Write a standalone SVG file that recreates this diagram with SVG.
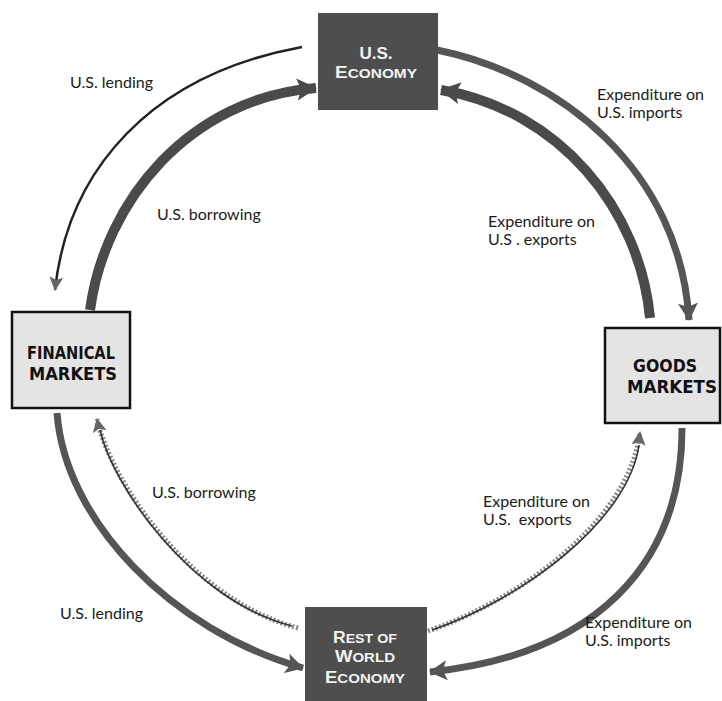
<svg xmlns="http://www.w3.org/2000/svg" width="722" height="701" viewBox="0 0 722 701">
  <style>
    .lbl { font-family: Lato, "Open Sans", "Liberation Sans", sans-serif; font-size: 16px; fill: #1a1a1a; }
    .dark { fill: #4e4e4e; }
    .light { fill: #e4e4e4; stroke: #111; stroke-width: 2.5; }
    .wt { font-family: "Liberation Sans", "DejaVu Sans", sans-serif; font-weight: bold; fill: #f4f4f4; text-anchor: middle; }
    .bt { font-family: "DejaVu Sans", "Liberation Sans", sans-serif; font-weight: bold; fill: #111; text-anchor: middle; }
    .thick { fill: none; stroke: #4a4a4a; stroke-width: 10; }
    .med { fill: none; stroke: #555; stroke-width: 7; }
    .thin { fill: none; stroke: #222; stroke-width: 2.5; }
    .speck { fill: none; stroke: #888; stroke-width: 5; stroke-dasharray: 2 2; }
    .core { fill: none; stroke: #333; stroke-width: 1.6; }
  </style>
  <defs>
    <marker id="ahBig" markerUnits="userSpaceOnUse" markerWidth="22" markerHeight="24" refX="19" refY="12" orient="auto">
      <polygon points="0,1 20,12 0,23 4,12" fill="#4a4a4a"/>
    </marker>
    <marker id="ahMed" markerUnits="userSpaceOnUse" markerWidth="20" markerHeight="22" refX="17" refY="11" orient="auto">
      <polygon points="0,1 18,11 0,21 4,11" fill="#555"/>
    </marker>
    <marker id="ahSmall" markerUnits="userSpaceOnUse" markerWidth="16" markerHeight="16" refX="13" refY="8" orient="auto">
      <polygon points="0,1 14,8 0,15 3,8" fill="#666"/>
    </marker>
  </defs>

  <g id="connectors">
    <!-- top-left: U.S. lending (thin) -->
    <path class="thin" d="M 302 47 C 150 75, 68 170, 55 290" marker-end="url(#ahSmall)"/>
    <!-- top-left: U.S. borrowing (thick) -->
    <path class="thick" d="M 90 310 C 105 200, 190 98, 316 88" marker-end="url(#ahBig)"/>
    <!-- top-right: imports (outer) -->
    <path class="med" d="M 437 50 C 560 75, 680 170, 689 320" marker-end="url(#ahMed)"/>
    <!-- top-right: exports (inner) -->
    <path class="thick" d="M 650 318 C 640 210, 560 110, 441 90" marker-end="url(#ahBig)"/>
    <!-- bottom-left: U.S. lending (outer thick) -->
    <path class="med" d="M 57 413 C 65 520, 170 630, 303 668" marker-end="url(#ahMed)"/>
    <!-- bottom-left: U.S. borrowing (thin speckled) -->
    <path class="speck" d="M 298 628 C 190 600, 110 480, 97 419" marker-end="url(#ahSmall)"/>
    <path class="core" d="M 292 626 C 190 600, 112 484, 100 430"/>
    <!-- bottom-right: exports (thin speckled) -->
    <path class="speck" d="M 428 631 C 520 600, 630 520, 640 432" marker-end="url(#ahSmall)"/>
    <path class="core" d="M 432 630 C 520 600, 628 522, 639 445"/>
    <!-- bottom-right: imports (thick) -->
    <path class="med" d="M 682 428 C 682 565, 595 655, 430 672" marker-end="url(#ahMed)"/>
  </g>

  <g id="us-economy">
    <rect class="dark" x="318" y="13" width="120" height="97"/>
    <text class="wt" x="376" y="59" font-size="17">U.S.</text>
    <text class="wt" x="376" y="78" font-size="13" textLength="82" lengthAdjust="spacingAndGlyphs"><tspan font-size="16">E</tspan>CONOMY</text>
  </g>

  <g id="financial-markets">
    <rect class="light" x="12" y="312" width="118" height="96"/>
    <text class="bt" x="71" y="359" font-size="17" textLength="88" lengthAdjust="spacingAndGlyphs">FINANICAL</text>
    <text class="bt" x="73" y="380" font-size="17" textLength="88" lengthAdjust="spacingAndGlyphs">MARKETS</text>
  </g>

  <g id="goods-markets">
    <rect class="light" x="605" y="328" width="115" height="95"/>
    <text class="bt" x="665" y="372" font-size="17" textLength="64" lengthAdjust="spacingAndGlyphs">GOODS</text>
    <text class="bt" x="672" y="393" font-size="17" textLength="90" lengthAdjust="spacingAndGlyphs">MARKETS</text>
  </g>

  <g id="rest-of-world">
    <rect class="dark" x="305" y="607" width="122" height="94"/>
    <text class="wt" x="365" y="643" font-size="13" textLength="64" lengthAdjust="spacingAndGlyphs"><tspan font-size="16">R</tspan>EST OF</text>
    <text class="wt" x="365" y="662" font-size="13" textLength="60" lengthAdjust="spacingAndGlyphs"><tspan font-size="16">W</tspan>ORLD</text>
    <text class="wt" x="365" y="683" font-size="13" textLength="80" lengthAdjust="spacingAndGlyphs"><tspan font-size="16">E</tspan>CONOMY</text>
  </g>

  <g id="labels">
    <text class="lbl" x="70" y="88">U.S. lending</text>
    <text class="lbl" x="157" y="220">U.S. borrowing</text>
    <text class="lbl" x="597" y="100">Expenditure on</text>
    <text class="lbl" x="597" y="118">U.S. imports</text>
    <text class="lbl" x="488" y="227">Expenditure on</text>
    <text class="lbl" x="488" y="245">U.S . exports</text>
    <text class="lbl" x="152" y="498">U.S. borrowing</text>
    <text class="lbl" x="60" y="619">U.S. lending</text>
    <text class="lbl" x="483" y="507">Expenditure on</text>
    <text class="lbl" x="483" y="525" xml:space="preserve">U.S.  exports</text>
    <text class="lbl" x="585" y="628">Expenditure on</text>
    <text class="lbl" x="585" y="646">U.S. imports</text>
  </g>
</svg>
